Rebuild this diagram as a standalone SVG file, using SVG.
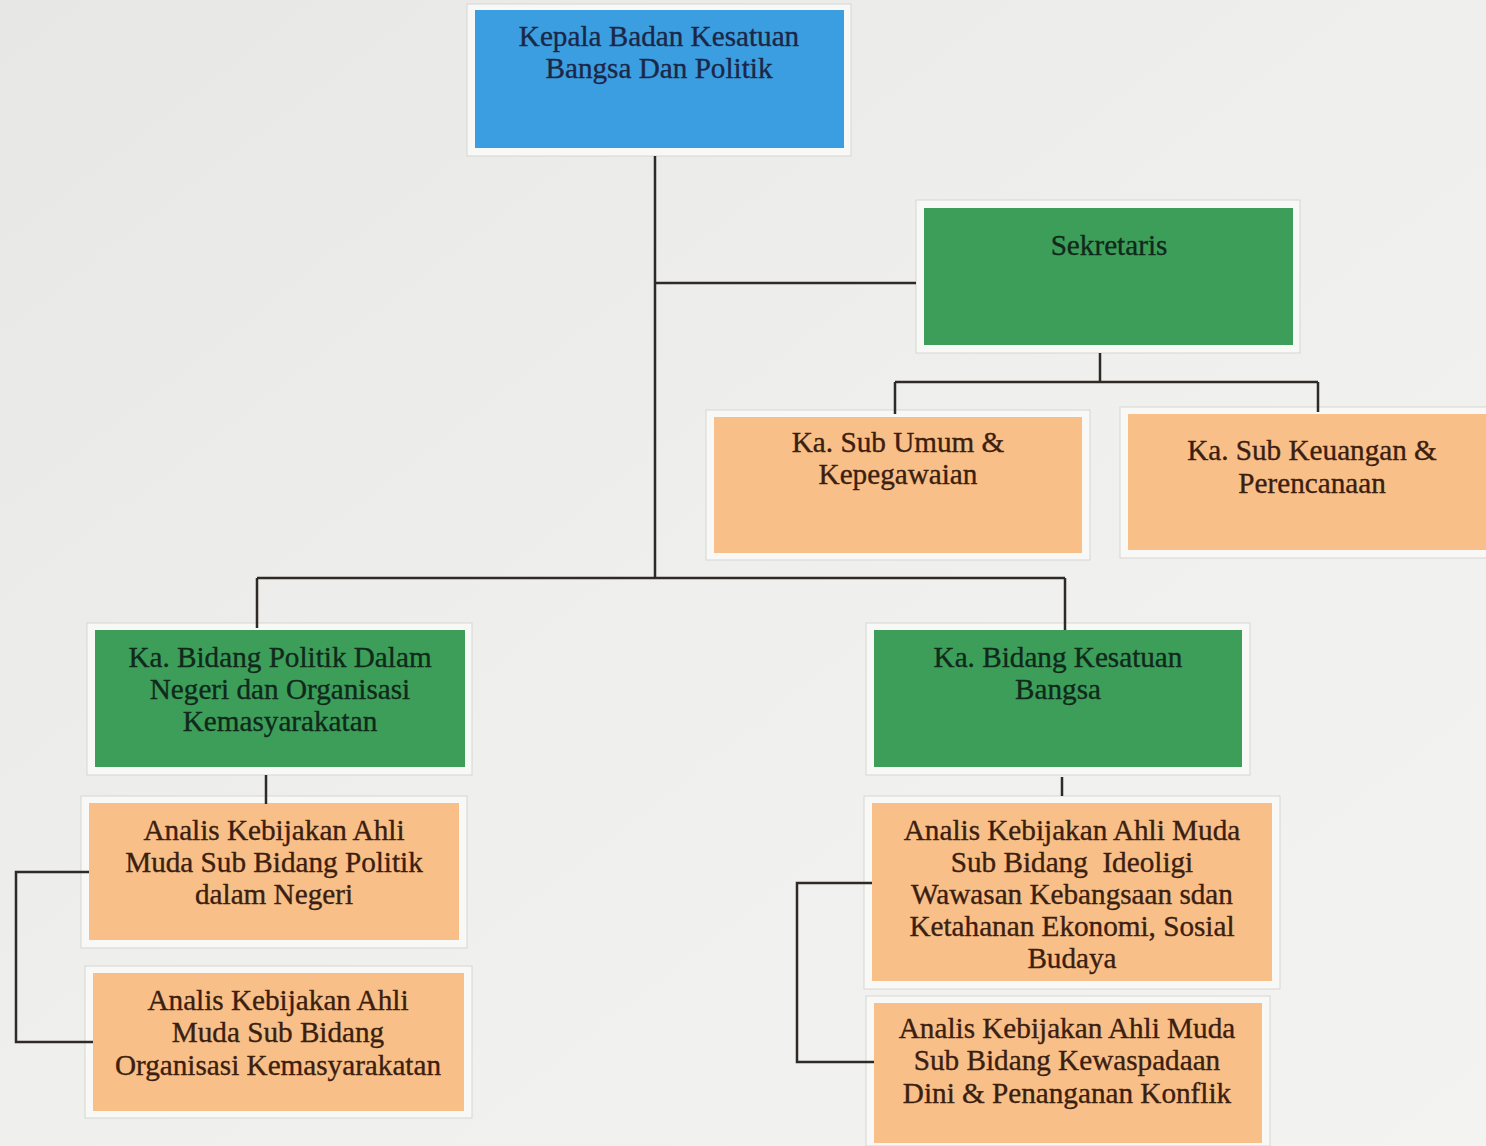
<svg xmlns="http://www.w3.org/2000/svg" width="1486" height="1146" viewBox="0 0 1486 1146">
<defs>
<linearGradient id="bg" x1="0" y1="0" x2="1" y2="1">
<stop offset="0" stop-color="#e7e7e5"/>
<stop offset="0.5" stop-color="#efefed"/>
<stop offset="1" stop-color="#f3f3f1"/>
</linearGradient>
<style>
.frame{fill:#f8f8f6;stroke:#d6d6d2;stroke-width:1}
.blue{fill:#3b9ee0}
.green{fill:#3d9e5a}
.orange{fill:#f8bf88}
.t{font-family:'Liberation Serif','DejaVu Serif',serif;font-size:29.2px;text-anchor:middle;stroke-width:0.35px}
.tb{fill:#1b2748;stroke:#1b2748}
.tg{fill:#10291a;stroke:#10291a}
.to{fill:#3b2010;stroke:#3b2010}
.ln{fill:none;stroke:#2e2a26;stroke-width:2.5}
</style>
</defs>
<rect width="1486" height="1146" fill="url(#bg)"/>

<g id="kepala">
<rect class="frame" x="467" y="4" width="384" height="152"/>
<rect class="blue" x="475" y="10" width="369" height="138"/>
<text class="t tb" x="659" y="46">Kepala Badan Kesatuan</text>
<text class="t tb" x="659" y="78">Bangsa Dan Politik</text>
</g>

<g id="sekretaris">
<rect class="frame" x="916" y="200" width="384" height="153"/>
<rect class="green" x="924" y="208" width="369" height="137"/>
<text class="t tg" x="1109" y="255">Sekretaris</text>
</g>

<g id="sub-umum">
<rect class="frame" x="706" y="410" width="384" height="150"/>
<rect class="orange" x="714" y="417" width="368" height="136"/>
<text class="t to" x="898" y="452">Ka. Sub Umum &amp;</text>
<text class="t to" x="898" y="484">Kepegawaian</text>
</g>

<g id="sub-keuangan">
<rect class="frame" x="1120" y="407" width="380" height="151"/>
<rect class="orange" x="1128" y="414" width="370" height="136"/>
<text class="t to" x="1312" y="460">Ka. Sub Keuangan &amp;</text>
<text class="t to" x="1312" y="493">Perencanaan</text>
</g>

<g id="bidang-politik">
<rect class="frame" x="87" y="623" width="385" height="152"/>
<rect class="green" x="95" y="630" width="370" height="137"/>
<text class="t tg" x="280" y="667">Ka. Bidang Politik Dalam</text>
<text class="t tg" x="280" y="699">Negeri dan Organisasi</text>
<text class="t tg" x="280" y="731">Kemasyarakatan</text>
</g>

<g id="analis-politik">
<rect class="frame" x="81" y="796" width="386" height="152"/>
<rect class="orange" x="89" y="803" width="370" height="137"/>
<text class="t to" x="274" y="840">Analis Kebijakan Ahli</text>
<text class="t to" x="274" y="872">Muda Sub Bidang Politik</text>
<text class="t to" x="274" y="904">dalam Negeri</text>
</g>

<g id="analis-ormas">
<rect class="frame" x="85" y="966" width="387" height="152"/>
<rect class="orange" x="93" y="973" width="371" height="138"/>
<text class="t to" x="278" y="1010">Analis Kebijakan Ahli</text>
<text class="t to" x="278" y="1042">Muda Sub Bidang</text>
<text class="t to" x="278" y="1075">Organisasi Kemasyarakatan</text>
</g>

<g id="bidang-kesatuan">
<rect class="frame" x="866" y="623" width="384" height="152"/>
<rect class="green" x="874" y="630" width="368" height="137"/>
<text class="t tg" x="1058" y="667">Ka. Bidang Kesatuan</text>
<text class="t tg" x="1058" y="699">Bangsa</text>
</g>

<g id="analis-ideologi">
<rect class="frame" x="864" y="796" width="416" height="193"/>
<rect class="orange" x="872" y="803" width="400" height="178"/>
<text class="t to" x="1072" y="840">Analis Kebijakan Ahli Muda</text>
<text class="t to" x="1072" y="872" xml:space="preserve">Sub Bidang  Ideoligi</text>
<text class="t to" x="1072" y="904">Wawasan Kebangsaan sdan</text>
<text class="t to" x="1072" y="936">Ketahanan Ekonomi, Sosial</text>
<text class="t to" x="1072" y="968">Budaya</text>
</g>

<g id="analis-kewaspadaan">
<rect class="frame" x="866" y="996" width="404" height="150"/>
<rect class="orange" x="874" y="1003" width="388" height="140"/>
<text class="t to" x="1067" y="1038">Analis Kebijakan Ahli Muda</text>
<text class="t to" x="1067" y="1070">Sub Bidang Kewaspadaan</text>
<text class="t to" x="1067" y="1103">Dini &amp; Penanganan Konflik</text>
</g>

<g id="connectors">
<path class="ln" d="M655 156V578M655 283H916"/>
<path class="ln" d="M1100 353V382M895 382H1318M895 382V414M1318 382V412"/>
<path class="ln" d="M257 578H1065M257 578V628M1065 578V630"/>
<path class="ln" d="M266 775V804"/>
<path class="ln" d="M89 872H16V1042H93"/>
<path class="ln" d="M1062 777V796"/>
<path class="ln" d="M872 883H797V1062H874"/>
</g>
</svg>
